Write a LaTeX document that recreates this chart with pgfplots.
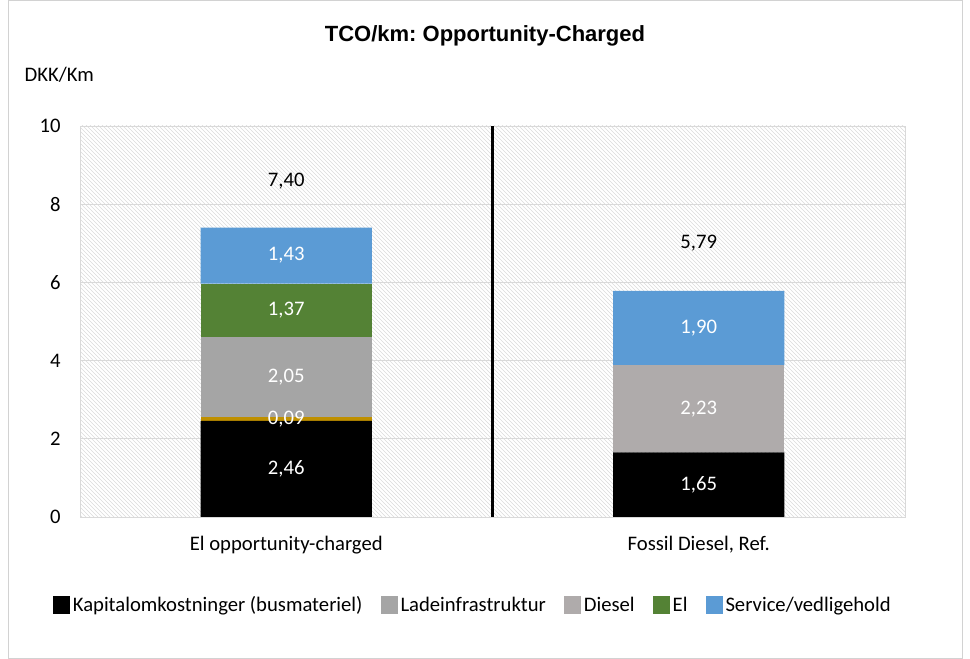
\documentclass[border=0pt]{standalone}
\usepackage{pgfplots}
\pgfplotsset{compat=1.18}
\usepackage{fontspec}
\setmainfont{Carlito}
\newfontfamily\arial{Liberation Sans}
\usetikzlibrary{patterns}
\frenchspacing
\definecolor{kap}{HTML}{000000}
\definecolor{gold}{HTML}{BF9000}
\definecolor{lade}{HTML}{A5A5A5}
\definecolor{dies}{HTML}{AFABAB}
\definecolor{elg}{HTML}{548235}
\definecolor{serv}{HTML}{5B9BD5}
\tikzset{wl/.style={font=\fontsize{15.5}{18}\selectfont, text=white}, bl/.style={font=\fontsize{15.5}{18}\selectfont}}
\begin{document}
\begin{tikzpicture}
\path[use as bounding box] (0,0) rectangle (727.5pt,494.25pt);
\draw[gray!35, line width=0.6pt] (6pt,0.5pt) rectangle (721.5pt,493.75pt);
\node[font=\arial\bfseries\fontsize{16.5}{19}\selectfont] at (363.75pt,467pt) {TCO/km: Opportunity-Charged};
\node[anchor=west, font=\fontsize{15.5}{18}\selectfont] at (15pt,438pt) {DKK/Km};
\begin{axis}[
  at={(60pt,106.5pt)}, anchor=south west,
  scale only axis, width=618.75pt, height=293.25pt,
  ybar stacked, bar width=0.415,
  xmin=-0.5, xmax=1.5, ymin=0, ymax=10,
  xtick={0,1}, xticklabels={El opportunity-charged, {Fossil Diesel, Ref.}},
  ytick={0,2,...,10},
  major tick length=0pt,
  ymajorgrids, grid style={gray!30, line width=0.6pt},
  axis line style={gray!30, line width=0.6pt},
  axis background/.style={pattern=north west lines, pattern color=gray!28},
  tick label style={font=\fontsize{15.5}{18}\selectfont},
  /pgf/number format/assume math mode=true,
  yticklabel style={xshift=-11pt},
  xticklabel style={yshift=-11pt},
  legend entries={Kapitalomkostninger (busmateriel),,Ladeinfrastruktur,Diesel,El,Service/vedligehold},
  legend style={at={(axis description cs:0.4765,-0.225)}, anchor=center, draw=none, fill=none,
    legend columns=-1, font=\fontsize{15.5}{18}\selectfont,
    /tikz/every even column/.append style={column sep=11.5pt}},
  legend image code/.code={\fill[#1] (0pt,-6.5pt) rectangle (13pt,6.5pt);},
  clip=false,
]
\addplot[fill=kap, draw=none] coordinates {(0,2.46) (1,1.65)};
\addplot[fill=gold, draw=none] coordinates {(0,0.09) (1,0)};
\addplot[fill=lade, draw=none] coordinates {(0,2.05) (1,0)};
\addplot[fill=dies, draw=none] coordinates {(0,0) (1,2.23)};
\addplot[fill=elg, draw=none] coordinates {(0,1.37) (1,0)};
\addplot[fill=serv, draw=none] coordinates {(0,1.43) (1,1.90)};
\draw[black, line width=2.2pt] (axis cs:0.5,0) -- (axis cs:0.5,10);
\coordinate (a1) at (axis cs:0,1.23);
\coordinate (a2) at (axis cs:0,2.5);
\coordinate (a3) at (axis cs:0,3.575);
\coordinate (a4) at (axis cs:0,5.285);
\coordinate (a5) at (axis cs:0,6.685);
\coordinate (b1) at (axis cs:1,0.825);
\coordinate (b2) at (axis cs:1,2.765);
\coordinate (b3) at (axis cs:1,4.83);
\coordinate (t1) at (axis cs:0,8.6);
\coordinate (t2) at (axis cs:1,7.0);
\end{axis}
\node[wl] at (a1) {2,46};
\node[wl] at (a2) {0,09};
\node[wl] at (a3) {2,05};
\node[wl] at (a4) {1,37};
\node[wl] at (a5) {1,43};
\node[wl] at (b1) {1,65};
\node[wl] at (b2) {2,23};
\node[wl] at (b3) {1,90};
\node[bl] at (t1) {7,40};
\node[bl] at (t2) {5,79};
\end{tikzpicture}
\end{document}
